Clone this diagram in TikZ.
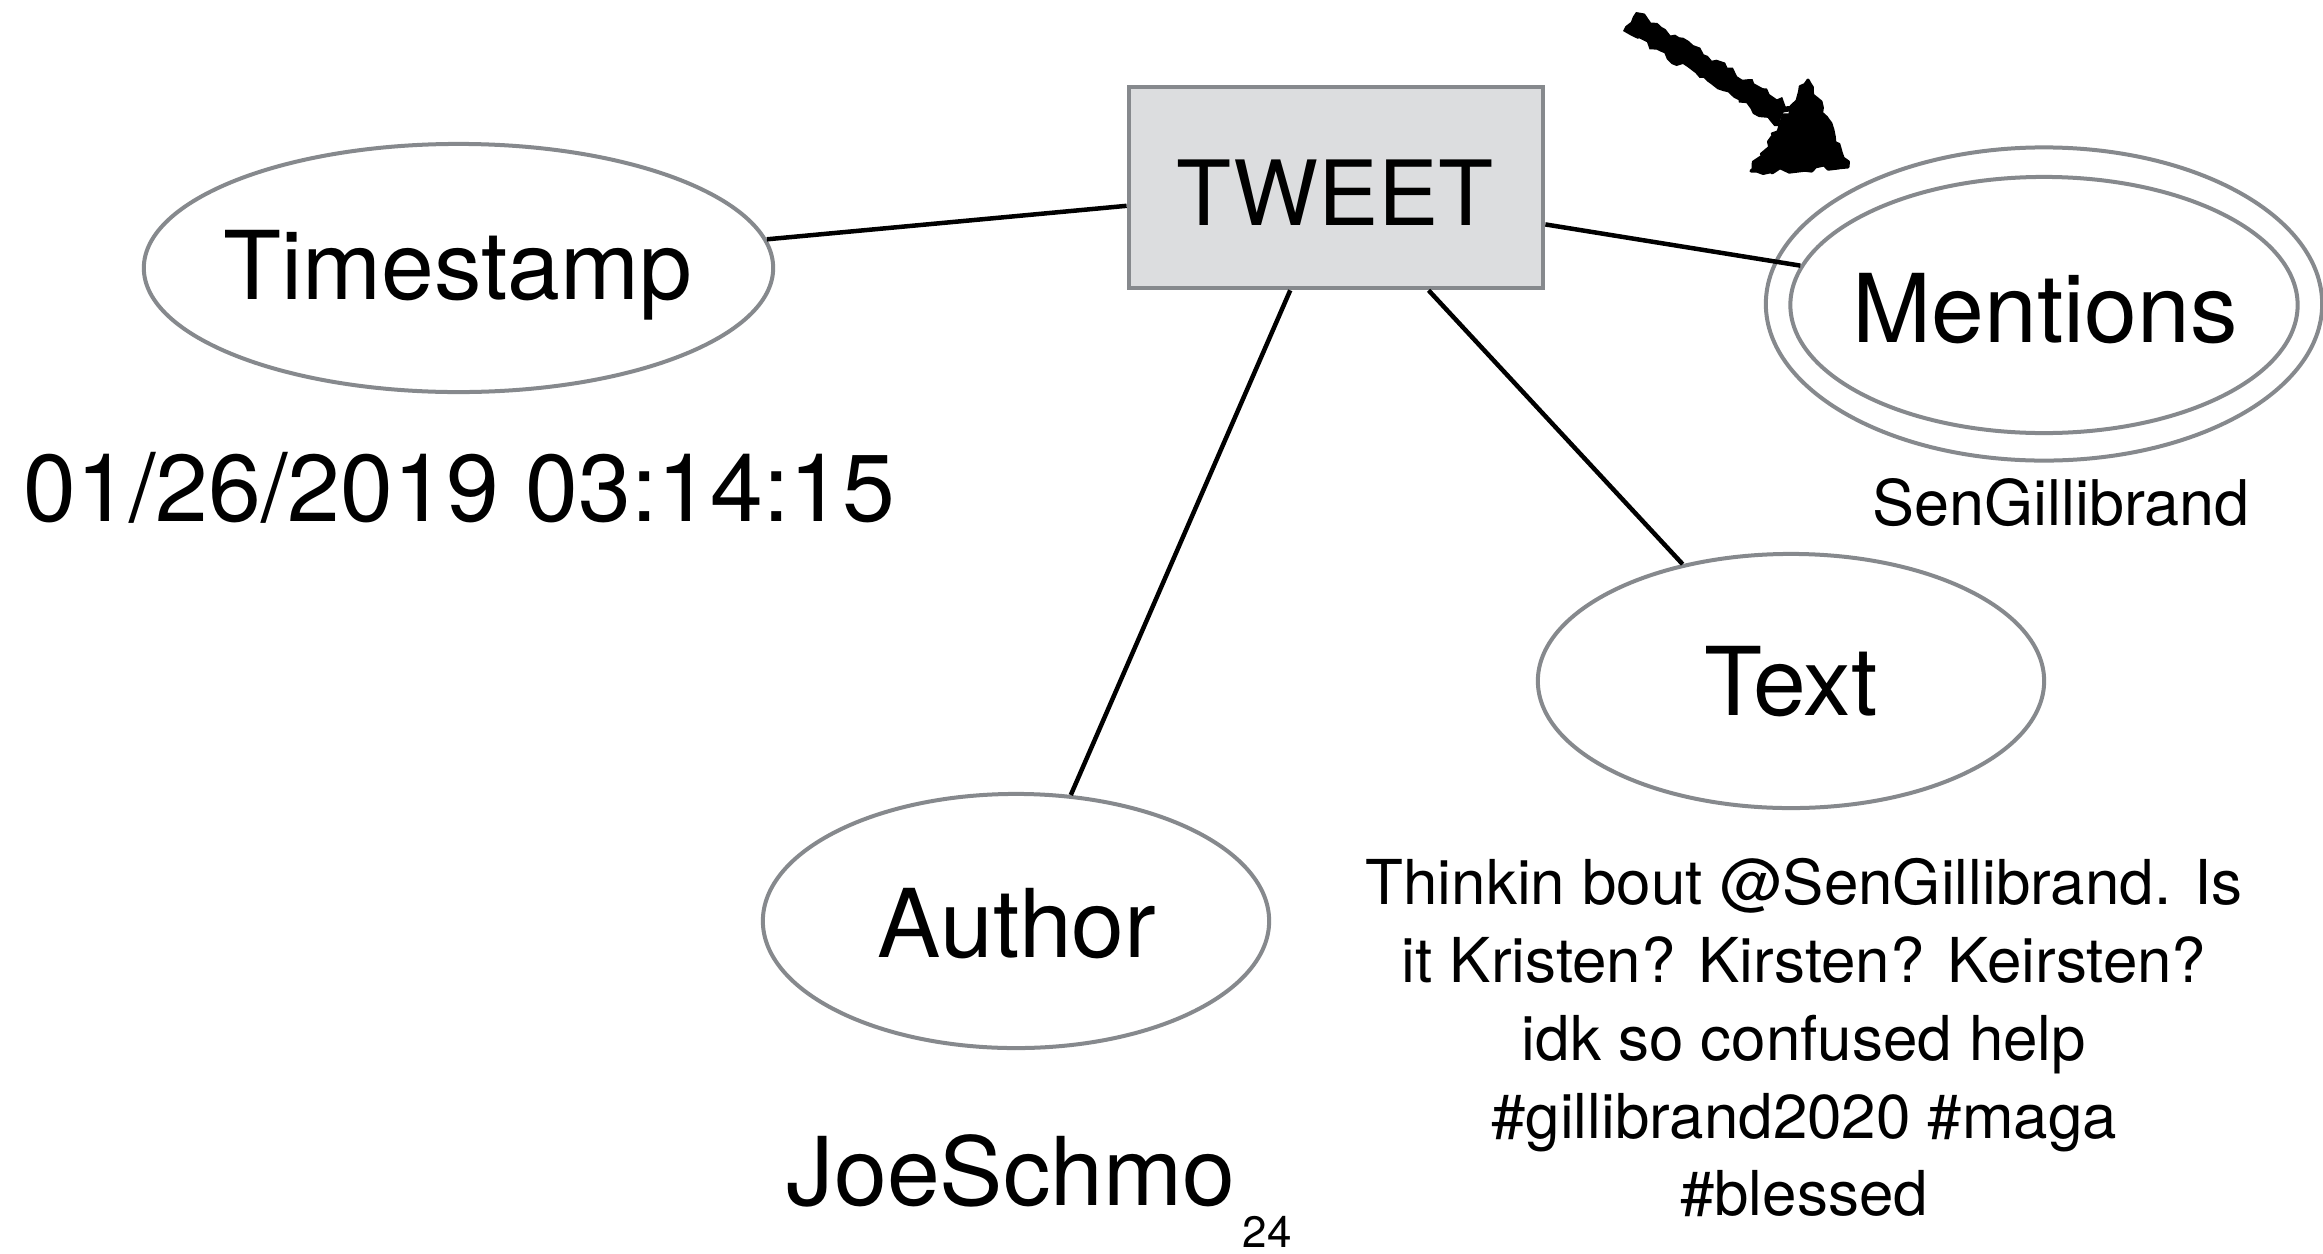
\documentclass[tikz,border=0pt]{standalone}
\usepackage{fontspec}
\setmainfont{TeX Gyre Heros}
\usetikzlibrary{shapes.geometric,decorations.pathmorphing,calc}
\definecolor{edgegrey}{RGB}{134,137,141}
\definecolor{boxfill}{RGB}{220,221,223}
\tikzset{
  attr/.style={ellipse, draw=edgegrey, line width=0.04cm, inner sep=0pt},
  conn/.style={draw=black, line width=0.045cm},
  biglbl/.style={inner sep=0pt, anchor=base, font=\fontsize{27}{32}\selectfont},
  smalllbl/.style={inner sep=0pt, anchor=base, font=\fontsize{17.9}{22}\selectfont},
  entitybox/.style={rectangle, draw=edgegrey, fill=boxfill, line width=0.045cm, inner sep=0pt,
    minimum width=4.14cm, minimum height=2.01cm},
  rough/.style={decorate, decoration={random steps, segment length=1.6pt, amplitude=0.9pt}}
}
\begin{document}
\begin{tikzpicture}[x=0.01cm, y=-0.01cm]
\pgfmathsetseed{7}
\fill[white] (0,0) rectangle (2323,1254);
\useasboundingbox (0,0) rectangle (2323,1254);

% entity
\node[entitybox] (tweet) at (1336,187.5) {};
\node[inner sep=0pt, anchor=base, font=\fontsize{25.6}{30}\selectfont] (tweetl) at (1335,225) {TWEET};

% attributes
\node[attr, minimum width=6.29cm, minimum height=2.48cm] (ts) at (458.5,268) {};
\node[biglbl] (tsl) at (458,299) {Timestamp};

\node[attr, minimum width=5.56cm, minimum height=3.13cm] (mentouter) at (2044,304) {};
\node[attr, minimum width=5.07cm, minimum height=2.56cm] (ment) at (2044,305) {};
\node[biglbl] (mentl) at (2045,342) {Mentions};

\node[attr, minimum width=5.06cm, minimum height=2.54cm] (txt) at (1791,681) {};
\node[biglbl] (txtl) at (1791,715) {Text};

\node[attr, minimum width=5.06cm, minimum height=2.54cm] (auth) at (1016,921) {};
\node[biglbl] (authl) at (1017,957) {Author};

% connectors
\draw[conn] (tweet.185) -- (ts);
\draw[conn] (tweet.350.5) -- (ment);
\draw[conn] (tweet.246.6) -- (auth);
\draw[conn] (tweet.312.5) -- (txt);

% values
\node[biglbl] (tsval) at (459.5,521) {01/26/2019 03:14:15};
\node[smalllbl] (mentval) at (2061,525) {SenGillibrand};
\node[biglbl] (authval) at (1011,1205) {JoeSchmo};
\node[inner sep=0pt, anchor=base, font=\fontsize{12.5}{15}\selectfont] (pagenum) at (1267,1247) {24};
\node[inner sep=0pt, anchor=north, align=center, font=\fontsize{17.6}{22.1}\selectfont] (txtval) at (1804,858)
  {Thinkin bout @SenGillibrand. Is\\ it Kristen? Kirsten? Keirsten?\\ idk so confused help\\ \#gillibrand2020 \#maga\\ \#blessed};

% hand-drawn arrow
\fill[black, rough] (1623,31) -- (1636,12) -- (1791,106) -- (1779,126) -- cycle;
\filldraw[black, line width=0.03cm, line join=round, rough]
  (1808,80) -- (1848,167) -- (1751,171) -- cycle;
\end{tikzpicture}
\end{document}
